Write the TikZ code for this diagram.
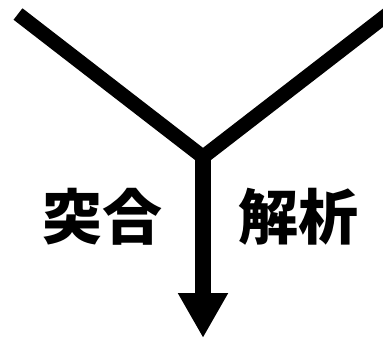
\documentclass[tikz,border=0pt]{standalone}
\usepackage{fontspec}
\newfontfamily\cjk{Noto Sans CJK JP}
\usetikzlibrary{arrows.meta}
\tikzset{
  branch/.style={line width=14.5pt, line join=miter, line cap=butt},
  stem/.style={line width=16pt, -{Triangle[length=45pt,width=47pt]}},
  lbl/.style={font=\cjk\bfseries\fontsize{60pt}{64pt}\selectfont, inner sep=0pt}
}
\begin{document}
\begin{tikzpicture}[x=1pt,y=-1pt]
\clip (0,0) rectangle (383,340);
\useasboundingbox (0,0) rectangle (383,340);
\coordinate (L) at (18,14);
\coordinate (A) at (203,157);
\coordinate (R) at (388,14);
\coordinate (T) at (203,338);
\draw[branch] (L) -- (A) -- (R);
\draw[stem] (A) -- (T);
\node[lbl] (t1) at (102,217) {突合};
\node[lbl] (t2) at (298,217) {解析};
\end{tikzpicture}
\end{document}
